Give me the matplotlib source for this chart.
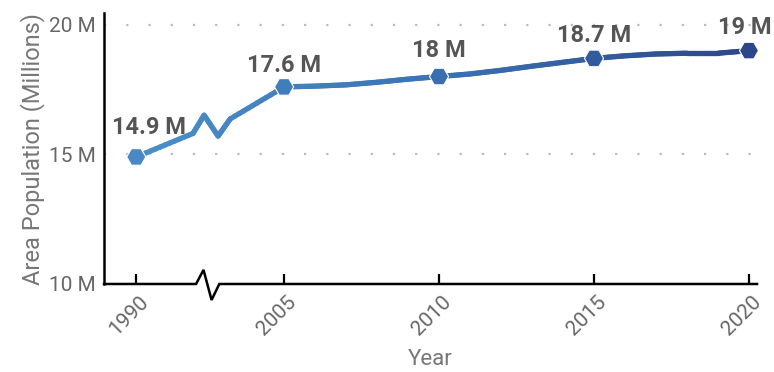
import numpy as np
import matplotlib
matplotlib.use('Agg')
from matplotlib import pyplot as plt
from matplotlib.collections import LineCollection
from matplotlib.colors import LinearSegmentedColormap
from matplotlib.transforms import ScaledTranslation

# yearly area population, millions
years = [1990, 2005, 2006, 2007, 2008, 2009, 2010, 2011, 2012, 2013, 2014, 2015,
         2016, 2017, 2018, 2019, 2020]
population = [14.9, 17.6, 17.63, 17.68, 17.78, 17.9, 18.0, 18.1, 18.24, 18.4, 18.55, 18.7,
              18.8, 18.87, 18.9, 18.9, 19.0]
label_years = [1990, 2005, 2010, 2015, 2020]
label_text = ['14.9 M', '17.6 M', '18 M', '18.7 M', '19 M']
ytick_vals = [10, 15, 20]
ytick_text = ['10 M', '15 M', '20 M']

plt.rcParams['font.family'] = ['Roboto', 'DejaVu Sans']

# the 1990-2005 gap is drawn compressed behind an axis break
def xpos(year):
	year = np.asarray(year, dtype=float)
	return np.where(year < 2005, 2005 - (2005 - year) * 0.318, year)

cmap = LinearSegmentedColormap.from_list('pop', ['#4b8fc7', '#3a72b4', '#2c4789'])

fig = plt.figure(figsize=(7.74, 3.72), dpi=100)
ax = fig.add_axes([0.1344, 0.2366, 0.8437, 0.7284])

x = xpos(years)
y = np.array(population)

# path of the line, with a squiggle where it crosses the break
x0, x1 = x[0], x[1]
def lin(xx):
	return y[0] + (y[1] - y[0]) * (xx - x0) / (x1 - x0)
sq_x = np.array([2002.06, 2002.42, 2002.87, 2003.26])
sq_dy = np.array([-0.13, 0.37, -0.69, -0.25])
px = np.concatenate([[x0], sq_x, x[1:]])
py = np.concatenate([[y[0]], lin(sq_x) + sq_dy, y[1:]])

# split into short pieces so the colour can run along the line
fx, fy = [], []
for i in range(len(px) - 1):
	t = np.linspace(0, 1, 12, endpoint=False)
	fx.extend(px[i] + (px[i + 1] - px[i]) * t)
	fy.extend(py[i] + (py[i + 1] - py[i]) * t)
fx.append(px[-1]); fy.append(py[-1])
fx = np.array(fx); fy = np.array(fy)
pts = np.column_stack([fx, fy]).reshape(-1, 1, 2)
segs = np.concatenate([pts[:-1], pts[1:]], axis=1)
xmin, xmax = 1999.19, 2020.26
lc = LineCollection(segs, cmap=cmap, linewidths=3.8, capstyle='round', joinstyle='round', zorder=3)
lc.set_array((fx[:-1] - x0) / (x[-1] - x0))
lc.set_norm(plt.Normalize(0, 1))
ax.add_collection(lc)

# hexagon markers on labelled years
lx = xpos(label_years)
ly = [population[years.index(yr)] for yr in label_years]
mcol = cmap(0.1 + 0.9 * (lx - x0) / (x[-1] - x0))
ax.scatter(lx, ly, marker='H', s=190, c=mcol, edgecolors='white', linewidths=0.8, zorder=4, clip_on=False)

offsets = [(9, 16.5), (0, 11), (0, 14), (0, 11.5), (-3, 12)]
for xx, yy, txt, off in zip(lx, ly, label_text, offsets):
	ax.annotate(txt, (xx, yy), xytext=off, textcoords='offset points', ha='center', va='baseline',
		fontsize=17, fontweight='bold', color='#555555', zorder=5, annotation_clip=False)

ax.set_xlim(xmin, xmax)
ax.set_ylim(10, 20.45)
ax.set_yticks(ytick_vals)
ax.set_yticklabels(ytick_text)
ax.set_xticks(lx)
ax.set_xticklabels([str(v) for v in label_years], rotation=45, ha='center')
ax.tick_params(axis='x', direction='in', length=7, width=1.6, color='black', labelsize=15,
	labelcolor='#666666', pad=6)
ax.tick_params(axis='y', length=0, labelsize=15, labelcolor='#666666', pad=6)
shift = ScaledTranslation(-7 / 100, 0, fig.dpi_scale_trans)
for lab in ax.get_xticklabels():
	lab.set_transform(lab.get_transform() + shift)

for yy in [15, 20]:
	ax.axhline(yy, color='#bbbbbb', linewidth=1.6, linestyle=(0, (1, 9)), zorder=1)

ax.spines['top'].set_visible(False)
ax.spines['right'].set_visible(False)
ax.spines['bottom'].set_visible(False)
ax.spines['left'].set_linewidth(1.8)

# bottom axis line with a zig-zag break
btr = ax.get_xaxis_transform()
bx = [xmin, 2002.16, 2002.4, 2002.66, 2002.91, xmax]
by = [0, 0, 0.052, -0.059, 0, 0]
ax.plot(bx, by, color='black', linewidth=1.8, transform=btr, clip_on=False, zorder=2,
	solid_joinstyle='miter')

ax.set_ylabel('Area Population (Millions)', fontsize=17, color='#777777', labelpad=3)
ax.set_xlabel('Year', fontsize=16, color='#777777', labelpad=7)

fig.savefig('out.png', dpi=100)
